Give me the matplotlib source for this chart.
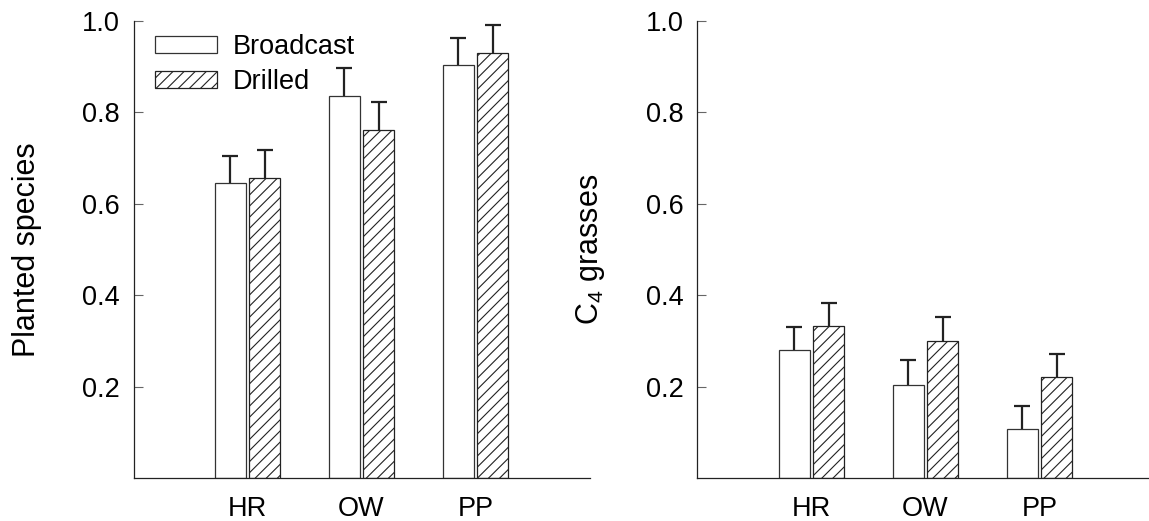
# --------------------------------------------------------------------------------
# Proportion d'espèces semées et de graminées C4 selon le mode de semis
# (à la volée / en ligne) pour les trois sites HR, OW et PP
# --------------------------------------------------------------------------------
import numpy as np
import matplotlib.pyplot as plt

sites = ['HR', 'OW', 'PP']

# Espèces semées
plantees_volee = [0.646, 0.837, 0.904]
plantees_volee_err = [0.059, 0.061, 0.059]
plantees_ligne = [0.657, 0.761, 0.931]
plantees_ligne_err = [0.061, 0.062, 0.060]

# Graminées C4
c4_volee = [0.280, 0.204, 0.107]
c4_volee_err = [0.051, 0.054, 0.051]
c4_ligne = [0.333, 0.300, 0.221]
c4_ligne_err = [0.051, 0.052, 0.050]

yticks = [0.2, 0.4, 0.6, 0.8, 1.0]

plt.rcParams['font.family'] = ['Liberation Sans', 'DejaVu Sans']
plt.rcParams['font.size'] = 19.5
plt.rcParams['mathtext.fontset'] = 'custom'
plt.rcParams['mathtext.rm'] = 'Liberation Sans'
plt.rcParams['mathtext.default'] = 'regular'
plt.rcParams['hatch.linewidth'] = 0.8

largeur = 0.27
decalage = 0.15
couleur_bord = '#333333'


# --------------------------------------------------------------------------------
# Trace un panneau : barres à la volée / en ligne avec barres d'erreur vers le haut
# --------------------------------------------------------------------------------
def trace_panneau(ax, volee, volee_err, ligne, ligne_err, label_y, xmax, x_label):
    x = np.arange(1, len(sites) + 1)
    b1 = ax.bar(x - decalage, volee, largeur, color='white', edgecolor=couleur_bord,
                linewidth=0.9, label='Broadcast', zorder=2)
    b2 = ax.bar(x + decalage, ligne, largeur, color='white', edgecolor='#222222',
                linewidth=0.9, hatch='///', label='Drilled', zorder=2)
    for pos, val, err in [(x - decalage, volee, volee_err), (x + decalage, ligne, ligne_err)]:
        eb = ax.errorbar(pos, val, yerr=[np.zeros(len(err)), err], fmt='none',
                         ecolor='#222222', elinewidth=1.6, capsize=5.8, capthick=1.6, zorder=3)
        # on masque le chapeau du bas (erreur vers le haut seulement)
        eb[1][0].set_visible(False)

    ax.set_xlim(0, xmax)
    ax.set_ylim(0, 1.0)
    ax.set_xticks(x)
    ax.set_xticklabels(sites)
    ax.set_yticks(yticks)
    ax.set_yticklabels(['%.1f' % v for v in yticks])
    ax.tick_params(axis='x', length=0, pad=13)
    ax.tick_params(axis='y', direction='in', length=6.5, width=0.8, color='#666666', pad=10)
    for cote in ['top', 'right']:
        ax.spines[cote].set_visible(False)
    for cote in ['left', 'bottom']:
        ax.spines[cote].set_color('#222222')
        ax.spines[cote].set_linewidth(0.9)
    ax.set_ylabel(label_y, fontsize=22)
    ax.yaxis.set_label_coords(x_label, 0.5)
    return b1, b2


fig = plt.figure(figsize=(11.49, 5.21), dpi=100)
ax1 = fig.add_axes([0.1162, 0.0825, 0.3969, 0.877])
ax2 = fig.add_axes([0.6070, 0.0825, 0.3930, 0.877])

b1, b2 = trace_panneau(ax1, plantees_volee, plantees_volee_err,
                       plantees_ligne, plantees_ligne_err, 'Planted species', 4.0, -0.201)
trace_panneau(ax2, c4_volee, c4_volee_err, c4_ligne, c4_ligne_err,
              'C$_4$ grasses', 3.96, -0.2005)

ax1.legend(handles=[b1, b2], loc='upper left', bbox_to_anchor=(0.047, 0.972),
           frameon=False, borderpad=0, borderaxespad=0, handlelength=2.3,
           handleheight=0.58, handletextpad=0.58, labelspacing=0.33)

plt.savefig('out.png', dpi=100)
